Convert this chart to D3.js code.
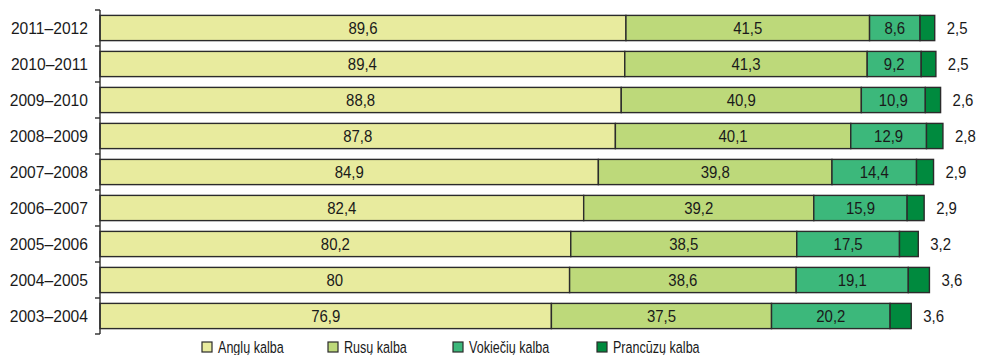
<!DOCTYPE html>
<html>
<head>
<meta charset="utf-8">
<script src="https://cdn.jsdelivr.net/npm/d3@7"></script>
<style>
  html, body { margin: 0; padding: 0; background: #fff; }
  svg { display: block; }
  text { font-family: "Liberation Sans", Arial, sans-serif; fill: #1a1a1a; }
</style>
</head>
<body>
<svg id="chart" width="984" height="355"></svg>
<script>
// School years, top to bottom
const years = ["2011–2012", "2010–2011", "2009–2010", "2008–2009", "2007–2008",
               "2006–2007", "2005–2006", "2004–2005", "2003–2004"];

// Share of pupils learning each foreign language, %
const anglu     = [89.6, 89.4, 88.8, 87.8, 84.9, 82.4, 80.2, 80.0, 76.9];
const rusu      = [41.5, 41.3, 40.9, 40.1, 39.8, 39.2, 38.5, 38.6, 37.5];
const vokieciu  = [8.6, 9.2, 10.9, 12.9, 14.4, 15.9, 17.5, 19.1, 20.2];
const prancuzu  = [2.5, 2.5, 2.6, 2.8, 2.9, 2.9, 3.2, 3.6, 3.6];

const seriesNames = ["Anglų kalba", "Rusų kalba", "Vokiečių kalba", "Prancūzų kalba"];
const seriesKeys = ["anglu", "rusu", "vokieciu", "prancuzu"];
const colors = ["#e8eb9e", "#bdd97a", "#3cb87b", "#008a3e"];

const rows = years.map((y, i) => ({
  year: y, anglu: anglu[i], rusu: rusu[i], vokieciu: vokieciu[i], prancuzu: prancuzu[i]
}));

const svg = d3.select("#chart");
const fmt = v => String(v).replace(".", ",");

// Narrow the glyphs horizontally around the text's own anchor point
function condense(sel, k) {
  sel.each(function () {
    const t = d3.select(this);
    const ax = +t.attr("x");
    t.attr("transform", `translate(${ax},0) scale(${k},1) translate(${-ax},0)`);
  });
}

const x = d3.scaleLinear().domain([0, 100]).range([100, 100 + 100 * 5.87]);
const y = d3.scaleBand().domain(years).range([10, 334]).paddingInner(0.3).paddingOuter(0.15);

const stack = d3.stack().keys(seriesKeys)(rows);

const g = svg.append("g");
stack.forEach((layer, li) => {
  g.selectAll(null).data(layer).enter().append("rect")
    .attr("x", d => x(d[0]))
    .attr("y", d => y(d.data.year))
    .attr("width", d => x(d[1]) - x(d[0]))
    .attr("height", y.bandwidth())
    .attr("fill", colors[li])
    .attr("stroke", "#2b2b2b")
    .attr("stroke-width", 1.4);
});

// Value labels: inside the segment for the first three, outside for the last
stack.forEach((layer, li) => {
  const last = li === stack.length - 1;
  g.selectAll(null).data(layer).enter().append("text")
    .attr("x", d => last ? x(d[1]) + 12 : (x(d[0]) + x(d[1])) / 2)
    .attr("y", d => y(d.data.year) + y.bandwidth() / 2)
    .attr("dy", "0.36em")
    .attr("text-anchor", last ? "start" : "middle")
    .attr("font-size", 17)
    .text(d => fmt(d.data[seriesKeys[li]]))
    .call(condense, 0.88);
});

// Category axis with ticks between the bands
const axisG = svg.append("g");
axisG.append("line")
  .attr("x1", 100).attr("x2", 100)
  .attr("y1", y.range()[0]).attr("y2", y.range()[1])
  .attr("stroke", "#2b2b2b").attr("stroke-width", 1.4);
const bounds = d3.range(years.length + 1).map(i => y.range()[0] + i * (y.range()[1] - y.range()[0]) / years.length);
axisG.selectAll(null).data(bounds).enter().append("line")
  .attr("x1", 95).attr("x2", 100)
  .attr("y1", d => d).attr("y2", d => d)
  .attr("stroke", "#2b2b2b").attr("stroke-width", 1.4);
axisG.selectAll(null).data(years).enter().append("text")
  .attr("x", 88)
  .attr("y", d => y(d) + y.bandwidth() / 2)
  .attr("dy", "0.36em")
  .attr("text-anchor", "end")
  .attr("font-size", 17)
  .text(d => d)
  .call(condense, 0.92);

// Legend
const legendX = [202, 328, 453, 597];
const legend = svg.append("g");
seriesNames.forEach((name, i) => {
  legend.append("rect")
    .attr("x", legendX[i]).attr("y", 342)
    .attr("width", 10).attr("height", 10)
    .attr("fill", colors[i])
    .attr("stroke", "#2b2b2b").attr("stroke-width", 1.2);
  legend.append("text")
    .attr("x", legendX[i] + 16).attr("y", 353)
    .attr("font-size", 17)
    .text(name)
    .call(condense, 0.74);
});
</script>
</body>
</html>
